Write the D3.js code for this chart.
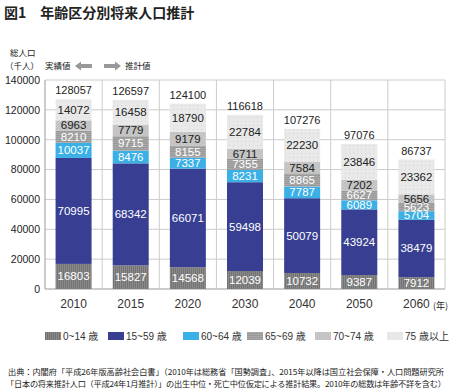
<!DOCTYPE html>
<html>
<head>
<meta charset="utf-8">
<script src="https://cdn.jsdelivr.net/npm/d3@7"></script>
<style>
  body { margin: 0; background: #fff; }
  text { font-family: "Liberation Sans", Arial, "Noto Sans CJK JP", sans-serif; }
  .jp { font-family: "Noto Sans CJK JP", sans-serif; }
</style>
</head>
<body>
<svg id="chart" width="450" height="392"></svg>
<script>
var years = ["2010", "2015", "2020", "2030", "2040", "2050", "2060"];
var groups = ["0~14 歳", "15~59 歳", "60~64 歳", "65~69 歳", "70~74 歳", "75 歳以上"];
var age0_14  = [16803, 15827, 14568, 12039, 10732, 9387, 7912];
var age15_59 = [70995, 68342, 66071, 59498, 50079, 43924, 38479];
var age60_64 = [10037, 8476, 7337, 8231, 7787, 6089, 5704];
var age65_69 = [8210, 9715, 8155, 7355, 8865, 6627, 5623];
var age70_74 = [6963, 7779, 9179, 6711, 7584, 7202, 5656];
var age75up  = [14072, 16458, 18790, 22784, 22230, 23846, 23362];
var totals   = [128057, 126597, 124100, 116618, 107276, 97076, 86737];
var yTicks   = [0, 20000, 40000, 60000, 80000, 100000, 120000, 140000];

var series = [age0_14, age15_59, age60_64, age65_69, age70_74, age75up];
var fills = ["url(#p0)", "#383f93", "#3ab0e6", "url(#p3)", "url(#p4)", "url(#p5)"];
var textColors = ["#fff", "#fff", "#fff", "#fff", "#222", "#222"];

var svg = d3.select("#chart");

// patterns
var defs = svg.append("defs");
var p0 = defs.append("pattern").attr("id", "p0").attr("patternUnits", "userSpaceOnUse")
  .attr("width", 2).attr("height", 2);
p0.append("rect").attr("width", 2).attr("height", 2).attr("fill", "#737373");
p0.append("rect").attr("width", 1).attr("height", 2).attr("fill", "#8a8a8a");
var p3 = defs.append("pattern").attr("id", "p3").attr("patternUnits", "userSpaceOnUse")
  .attr("width", 2).attr("height", 2);
p3.append("rect").attr("width", 2).attr("height", 2).attr("fill", "#999");
p3.append("rect").attr("width", 2).attr("height", 1).attr("fill", "#a9a9a9");
var p4 = defs.append("pattern").attr("id", "p4").attr("patternUnits", "userSpaceOnUse")
  .attr("width", 3).attr("height", 3);
p4.append("rect").attr("width", 3).attr("height", 3).attr("fill", "#c9c9c9");
p4.append("path").attr("d", "M0,3 L3,0").attr("stroke", "#b9b9b9").attr("stroke-width", 0.8);
var p5 = defs.append("pattern").attr("id", "p5").attr("patternUnits", "userSpaceOnUse")
  .attr("width", 4).attr("height", 4);
p5.append("rect").attr("width", 4).attr("height", 4).attr("fill", "#e9e9e9");
p5.append("rect").attr("x", 1).attr("y", 1).attr("width", 1).attr("height", 1).attr("fill", "#d6d6d6");

var x = d3.scaleBand().domain(years).range([45, 445]);
var y = d3.scaleLinear().domain([0, 140000]).range([289, 80]);

// grid
svg.append("g").selectAll("line").data(yTicks).enter().append("line")
  .attr("x1", 45).attr("x2", 445)
  .attr("y1", function (d) { return y(d); }).attr("y2", function (d) { return y(d); })
  .attr("stroke", function (d) { return d === 0 ? "#999" : "#ccc"; }).attr("stroke-width", 1);
svg.append("g").selectAll("line").data(years.concat(["end"])).enter().append("line")
  .attr("x1", function (d, i) { return 45 + i * x.bandwidth(); })
  .attr("x2", function (d, i) { return 45 + i * x.bandwidth(); })
  .attr("y1", y(140000)).attr("y2", y(0))
  .attr("stroke", function (d, i) { return i === 0 ? "#999" : "#ccc"; }).attr("stroke-width", 1);

// y axis labels
var yAxis = d3.axisLeft(y).tickValues(yTicks).tickFormat(d3.format("d")).tickSize(0).tickPadding(5);
var ya = svg.append("g").attr("transform", "translate(45,0)").call(yAxis);
ya.select(".domain").remove();
ya.selectAll("text").attr("font-size", 10.5).attr("fill", "#222")
  .style("font-family", "'Liberation Sans', Arial, sans-serif");

// x axis labels
var xAxis = d3.axisBottom(x).tickSize(0).tickPadding(10);
var xa = svg.append("g").attr("transform", "translate(0,289)").call(xAxis);
xa.select(".domain").remove();
xa.selectAll("text").attr("font-size", 12).attr("fill", "#333")
  .style("font-family", "'Liberation Sans', Arial, sans-serif");
svg.append("text").attr("class", "jp").attr("x", 433).attr("y", 309)
  .attr("font-size", 9).attr("fill", "#222").text("(年)");

// stacked bars
var barW = 36;
var rows = years.map(function (yr, i) {
  var o = { year: yr };
  groups.forEach(function (g, k) { o[g] = series[k][i]; });
  return o;
});
var stack = d3.stack().keys(groups)(rows);

stack.forEach(function (layer, k) {
  var g = svg.append("g");
  g.selectAll("rect").data(layer).enter().append("rect")
    .attr("x", function (d) { return x(d.data.year) + (x.bandwidth() - barW) / 2; })
    .attr("width", barW)
    .attr("y", function (d) { return y(d[1]); })
    .attr("height", function (d) { return y(d[0]) - y(d[1]); })
    .attr("fill", fills[k]);
  g.selectAll("text").data(layer).enter().append("text")
    .attr("x", function (d) { return x(d.data.year) + x.bandwidth() / 2; })
    .attr("y", function (d) { return (y(d[0]) + y(d[1])) / 2 + 4; })
    .attr("text-anchor", "middle").attr("font-size", 11.5)
    .attr("fill", textColors[k])
    .text(function (d) { return d[1] - d[0]; });
});

// totals
svg.append("g").selectAll("text").data(years).enter().append("text")
  .attr("x", function (d) { return x(d) + x.bandwidth() / 2; })
  .attr("y", function (d, i) { return y(stack[5][i][1]) - 5; })
  .attr("text-anchor", "middle").attr("font-size", 11).attr("fill", "#222")
  .text(function (d, i) { return totals[i]; });

// title and axis title
svg.append("text").attr("class", "jp").attr("x", 4).attr("y", 18)
  .attr("font-size", 14).attr("font-weight", "bold").attr("fill", "#222")
  .text("図1　年齢区分別将来人口推計");
svg.append("text").attr("class", "jp").attr("x", 10).attr("y", 56)
  .attr("font-size", 8.5).attr("fill", "#222").text("総人口");
svg.append("text").attr("class", "jp").attr("x", 5).attr("y", 69)
  .attr("font-size", 8.5).attr("fill", "#222").text("（千人）");
svg.append("text").attr("class", "jp").attr("x", 45).attr("y", 69)
  .attr("font-size", 8.5).attr("fill", "#222").text("実績値");
svg.append("text").attr("class", "jp").attr("x", 125).attr("y", 69)
  .attr("font-size", 8.5).attr("fill", "#222").text("推計値");
svg.append("path").attr("d", "M75,66 L81,61.5 L81,64 L92,64 L92,68 L81,68 L81,70.5 Z").attr("fill", "#999");
svg.append("path").attr("d", "M121,66 L115,61.5 L115,64 L104,64 L104,68 L115,68 L115,70.5 Z").attr("fill", "#999");

// legend
var legendX = [45, 108, 183, 247, 315, 387];
var legend = svg.append("g");
groups.forEach(function (gname, k) {
  legend.append("rect").attr("x", legendX[k]).attr("y", 332).attr("width", 16).attr("height", 8)
    .attr("fill", fills[k]);
  legend.append("text").attr("x", legendX[k] + 18).attr("y", 340)
    .attr("font-size", 10).attr("fill", "#333").text(gname);
});

// source
svg.append("text").attr("class", "jp").attr("x", 8).attr("y", 375)
  .attr("font-size", 8.2).attr("fill", "#222").attr("textLength", 436)
  .text("出典：内閣府「平成26年版高齢社会白書」（2010年は総務省「国勢調査」、2015年以降は国立社会保障・人口問題研究所");
svg.append("text").attr("class", "jp").attr("x", 6).attr("y", 387)
  .attr("font-size", 8.2).attr("fill", "#222").attr("textLength", 440)
  .text("「日本の将来推計人口（平成24年1月推計）」の出生中位・死亡中位仮定による推計結果。2010年の総数は年齢不詳を含む）");
</script>
</body>
</html>
